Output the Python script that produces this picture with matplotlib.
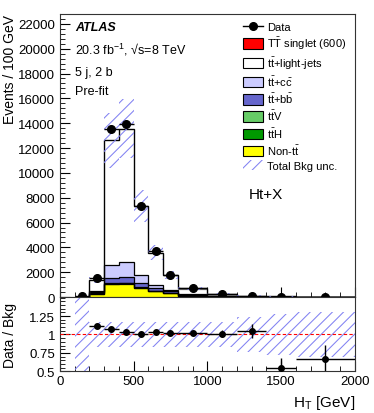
import numpy as np
import matplotlib
matplotlib.use("Agg")
import matplotlib.pyplot as plt
from matplotlib.patches import Patch
from matplotlib.lines import Line2D
from matplotlib.ticker import MultipleLocator

plt.rcParams['font.family'] = ['Liberation Sans', 'DejaVu Sans']
plt.rcParams['mathtext.fontset'] = 'custom'
plt.rcParams['mathtext.rm'] = 'Liberation Sans'
plt.rcParams['mathtext.default'] = 'regular'
plt.rcParams['hatch.linewidth'] = 0.75

# bin edges in GeV
BORDAS = [100, 200, 300, 400, 500, 600, 700, 800, 1000, 1200, 1400, 1600, 2000]

# events / 100 GeV
DADOS = [60, 1560, 13560, 13940, 7330, 3700, 1800, 700, 260, 110, 30, 12]
DADOS_ERR = [8, 40, 116, 118, 86, 61, 42, 19, 11, 7, 4, 2]

NON_TT = [8, 280, 1050, 1050, 700, 480, 330, 120, 45, 18, 8, 3]
TTH = [0, 5, 40, 50, 30, 15, 8, 4, 2, 1, 0.5, 0.2]
TTV = [0, 15, 60, 70, 50, 25, 15, 8, 4, 2, 1, 0.5]
TTBB = [2, 90, 400, 430, 320, 180, 130, 45, 18, 8, 3, 1]
TTCC = [5, 130, 1020, 1240, 670, 265, 110, 70, 25, 10, 5, 2]
TTLIGHT = [25, 880, 10050, 10720, 5560, 2605, 1172, 443, 163, 66, 37.5, 11.3]
SINAL = [0, 0, 1, 3, 5, 6, 5, 4, 2, 1, 0.5, 0.2]

# relative total background uncertainty
INCERTEZA = [1.0, 0.175, 0.175, 0.175, 0.175, 0.175, 0.175, 0.175, 0.17, 0.24, 0.28, 0.30]
RAZAO_ERR = [0.0, 0.012, 0.008, 0.008, 0.01, 0.016, 0.02, 0.02, 0.05, 0.10, 0.13, 0.19]

bordas = np.array(BORDAS, dtype=float)
centros = 0.5 * (bordas[:-1] + bordas[1:])
larguras = np.diff(bordas)

componentes = [
    (NON_TT, '#ffff00', 'black'),
    (TTH, '#009900', 'black'),
    (TTV, '#66cc66', 'black'),
    (TTBB, '#6666cc', 'black'),
    (TTCC, '#ccccff', 'black'),
    (TTLIGHT, 'white', '#777777'),
    (SINAL, '#ff0000', 'black'),
]

cor_hatch = '#8282f2'

fig = plt.figure(figsize=(3.74, 4.14), dpi=100)
ax = fig.add_axes([0.160, 0.280, 0.789, 0.684])
axr = fig.add_axes([0.160, 0.101, 0.789, 0.179], sharex=ax)

# stacked histograms
base = np.zeros(len(DADOS))
for valores, cor, borda in componentes:
    topo = base + np.array(valores, dtype=float)
    ax.stairs(topo, bordas, baseline=base, fill=True, facecolor=cor, linewidth=0, zorder=2)
    ax.stairs(topo, bordas, baseline=0, fill=False, edgecolor=borda, linewidth=0.9, zorder=3)
    base = topo

bkg = np.zeros(len(DADOS))
for valores in [NON_TT, TTH, TTV, TTBB, TTCC, TTLIGHT]:
    bkg = bkg + np.array(valores, dtype=float)
unc = np.array(INCERTEZA)

ax.bar(bordas[:-1], 2 * unc * bkg, width=larguras, bottom=bkg * (1 - unc), align='edge',
       fill=False, hatch='///', edgecolor=cor_hatch, linewidth=0, zorder=4)

ax.errorbar(centros, DADOS, xerr=larguras / 2, yerr=DADOS_ERR, fmt='o', color='black',
            markersize=5.5, elinewidth=1, capsize=0, zorder=5)

ax.set_xlim(0, 2000)
ax.set_ylim(0, 22800)
ax.yaxis.set_major_locator(MultipleLocator(2000))
ax.yaxis.set_minor_locator(MultipleLocator(400))
ax.xaxis.set_major_locator(MultipleLocator(500))
ax.xaxis.set_minor_locator(MultipleLocator(100))
ax.tick_params(which='both', direction='in', top=False, right=False, labelbottom=False)
ax.tick_params(which='major', length=7, labelsize=9.5)
ax.tick_params(which='minor', length=3.5)
ax.set_ylabel('Events / 100 GeV', fontsize=10, loc='top')
ax.yaxis.set_label_coords(-0.145, 1.0)

ax.text(0.052, 0.955, 'ATLAS', transform=ax.transAxes, fontsize=9, fontweight='bold',
        fontstyle='italic', va='center')
ax.text(0.052, 0.878, '20.3 fb$^{-1}$, \u221as=8 TeV', transform=ax.transAxes,
        fontsize=9, va='center')
ax.text(0.052, 0.795, '5 j, 2 b', transform=ax.transAxes, fontsize=9, va='center')
ax.text(0.052, 0.728, 'Pre-fit', transform=ax.transAxes, fontsize=9, va='center')
ax.text(0.64, 0.365, 'Ht+X', transform=ax.transAxes, fontsize=11, va='center')

rotulos = ['Data', r'T$\bar{T}$ singlet (600)', r't$\bar{t}$+light-jets', r't$\bar{t}$+c$\bar{c}$',
           r't$\bar{t}$+b$\bar{b}$', r't$\bar{t}$V', r't$\bar{t}$H', r'Non-t$\bar{t}$', 'Total Bkg unc.']
alcas = [
    Line2D([], [], color='black', marker='o', markersize=5.5, linewidth=1),
    Patch(facecolor='#ff0000', edgecolor='black', linewidth=0.8),
    Patch(facecolor='white', edgecolor='black', linewidth=0.8),
    Patch(facecolor='#ccccff', edgecolor='black', linewidth=0.8),
    Patch(facecolor='#6666cc', edgecolor='black', linewidth=0.8),
    Patch(facecolor='#66cc66', edgecolor='black', linewidth=0.8),
    Patch(facecolor='#009900', edgecolor='black', linewidth=0.8),
    Patch(facecolor='#ffff00', edgecolor='black', linewidth=0.8),
    Patch(facecolor='none', edgecolor=cor_hatch, hatch='///', linewidth=0),
]
fig.legend(alcas, rotulos, loc='upper left', bbox_to_anchor=(243 / 374, 1 - 22 / 414),
           bbox_transform=fig.transFigure, frameon=False, fontsize=8, borderpad=0,
           borderaxespad=0, handlelength=1.8, handleheight=1.08, handletextpad=0.4,
           labelspacing=0.28)

# ratio panel
dados = np.array(DADOS, dtype=float)
razao = dados / bkg
axr.bar(bordas[:-1], 2 * unc, width=larguras, bottom=1 - unc, align='edge',
        fill=False, hatch='///', edgecolor=cor_hatch, linewidth=0, zorder=2)
axr.axhline(1, color='red', linestyle='--', linewidth=0.8, dashes=(3, 2), zorder=3)
axr.errorbar(centros[1:], razao[1:], xerr=larguras[1:] / 2, yerr=RAZAO_ERR[1:], fmt='o',
             color='black', markersize=4, elinewidth=1, capsize=0, zorder=5)
axr.set_ylim(0.5, 1.51)
axr.set_yticks([0.5, 0.75, 1, 1.25])
axr.set_yticklabels(['0.5', '0.75', '1', '1.25'])
axr.yaxis.set_minor_locator(MultipleLocator(0.05))
axr.tick_params(which='both', direction='in', top=False, right=False)
axr.tick_params(which='major', length=7, labelsize=9.5)
axr.tick_params(which='minor', length=3.5)
axr.tick_params(axis='x', pad=3)
axr.set_ylabel('Data / Bkg', fontsize=10)
axr.yaxis.set_label_coords(-0.145, 0.5)
axr.set_xlabel(r'H$_T$ [GeV]', fontsize=11, loc='right')

for a in (ax, axr):
    for s in a.spines.values():
        s.set_linewidth(0.8)
        s.set_color('#333333')

fig.savefig('out.png', dpi=100)
